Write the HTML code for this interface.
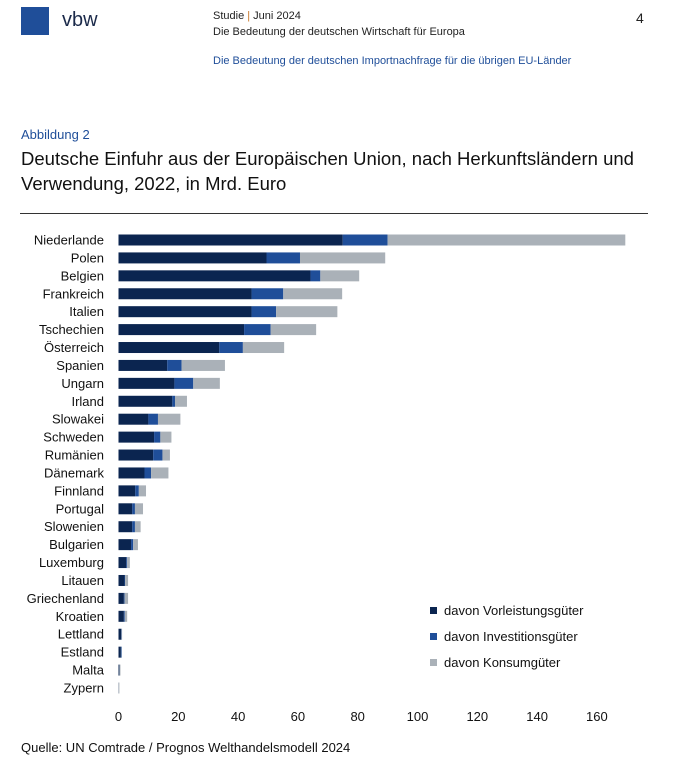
<!DOCTYPE html>
<html><head><meta charset="utf-8"><style>
body{margin:0;width:681px;height:770px;background:#fff;font-family:"Liberation Sans",sans-serif;position:relative;overflow:hidden}
.a{position:absolute;white-space:nowrap}
</style></head><body>
<div class="a" style="left:21px;top:7px;width:28px;height:28px;background:#1f4e99"></div>
<div class="a" style="left:62px;top:9px;font-size:20px;color:#1b2a4a">vbw</div>
<div class="a" style="left:213px;top:10px;font-size:11px;color:#222">Studie <span style="color:#c8782a">|</span> Juni 2024</div>
<div class="a" style="left:213px;top:26px;font-size:11px;color:#222">Die Bedeutung der deutschen Wirtschaft für Europa</div>
<div class="a" style="left:636px;top:10px;font-size:14px;color:#222">4</div>
<div class="a" style="left:213px;top:55px;font-size:11px;color:#1f4e99">Die Bedeutung der deutschen Importnachfrage für die übrigen EU-Länder</div>
<div class="a" style="left:21px;top:127px;font-size:13px;color:#1f4e99">Abbildung 2</div>
<div class="a" style="left:21px;top:146px;font-size:18.5px;line-height:25px;color:#111;white-space:normal;width:650px">Deutsche Einfuhr aus der Europäischen Union, nach Herkunftsländern und Verwendung, 2022, in Mrd. Euro</div>
<div class="a" style="left:20px;top:213px;width:628px;height:1px;background:#333"></div>
<svg class="a" style="left:0;top:0" width="681" height="770" id="chart"></svg>
<div class="a" style="left:21px;top:740px;font-size:13px;color:#111">Quelle: UN Comtrade / Prognos Welthandelsmodell 2024</div>
<script>
const countries=["Niederlande","Polen","Belgien","Frankreich","Italien","Tschechien","Österreich","Spanien","Ungarn","Irland","Slowakei","Schweden","Rumänien","Dänemark","Finnland","Portugal","Slowenien","Bulgarien","Luxemburg","Litauen","Griechenland","Kroatien","Lettland","Estland","Malta","Zypern"];
const vorleistung=[75.0,49.5,64.2,44.5,44.5,42.0,33.7,16.3,18.7,18.0,10.0,11.9,11.6,8.7,5.6,4.6,4.6,4.2,2.6,2.0,1.8,1.8,0.9,0.8,0.3,0.1];
const investition=[15.0,11.2,3.3,10.6,8.2,8.9,7.9,4.8,6.3,0.9,3.2,2.1,3.1,2.2,1.2,0.9,0.9,0.7,0.3,0.2,0.2,0.3,0.1,0.2,0.05,0.0];
const konsum=[79.5,28.5,13.0,19.7,20.5,15.2,13.8,14.5,8.9,4.0,7.5,3.7,2.5,5.8,2.4,2.7,1.9,1.6,0.9,1.0,1.2,0.8,0.2,0.1,0.3,0.2];
const ticks=[0,20,40,60,80,100,120,140,160];
const seriesNames=["davon Vorleistungsgüter","davon Investitionsgüter","davon Konsumgüter"];
const colors=["#0b2550","#1f4e99","#aab1b8"];
const NS="http://www.w3.org/2000/svg";
const svg=document.getElementById('chart');
const x=v=>118.5+v*2.99;
const y=i=>240+i*17.92;
function mk(t,a){const e=document.createElementNS(NS,t);for(const k in a)e.setAttribute(k,a[k]);svg.appendChild(e);return e;}
const series=[vorleistung,investition,konsum];
countries.forEach((c,i)=>{
  const t=mk('text',{x:104,y:y(i)+4.5,'text-anchor':'end','font-size':'13','fill':'#111','font-family':'Liberation Sans'});
  t.textContent=c;
  
  
  let acc=0;
  series.forEach((s,k)=>{
    const r=mk('rect',{x:x(acc),y:y(i)-5.5,width:Math.max(0,x(acc+s[i])-x(acc)),height:11,fill:colors[k]});
    
    
    acc+=s[i];
  });
});
ticks.forEach(v=>{
  const t=mk('text',{x:x(v),y:721,'text-anchor':'middle','font-size':'13','fill':'#111','font-family':'Liberation Sans'});
  t.textContent=v;
  
  
});
seriesNames.forEach((n,k)=>{
  const r=mk('rect',{x:430,y:607+k*26,width:7,height:7,fill:colors[k]});
  
  
  const t=mk('text',{x:444,y:615+k*26,'font-size':'13','fill':'#111','font-family':'Liberation Sans'});
  t.textContent=n;
  
  
});
</script>
</body></html>
